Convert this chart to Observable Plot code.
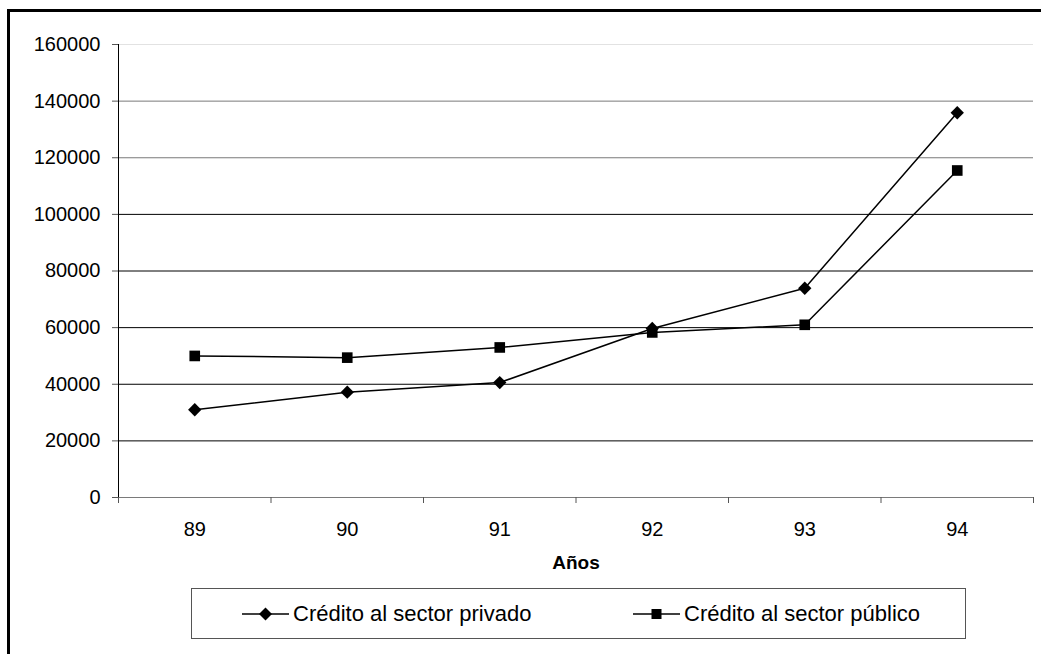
<!DOCTYPE html>
<html>
<head>
<meta charset="utf-8">
<script src="https://cdn.jsdelivr.net/npm/d3@7"></script>
<script src="https://cdn.jsdelivr.net/npm/@observablehq/plot@0.6"></script>
<style>
  body { margin: 0; background: #fff; overflow: hidden; }
  #page { position: relative; width: 1041px; height: 654px; overflow: hidden; font-family: "Liberation Sans", Arial, sans-serif; background: #fff; }
  #frame { position: absolute; left: 7px; top: 9px; width: 1100px; height: 700px; border-left: 3px solid #000; border-top: 3px solid #000; }
  #chart { position: absolute; left: 0; top: 0; }
  #legend { position: absolute; left: 191px; top: 588px; width: 773px; height: 49px; border: 1px solid #555; background: #fff; }
  .item { position: absolute; top: 0; height: 49px; display: flex; align-items: center; font-size: 22px; color: #000; white-space: nowrap; }
  .item svg { margin-right: 4px; }
</style>
</head>
<body>
<div id="page">
  <div id="frame"></div>
  <div id="chart"></div>
  <div id="legend"></div>
</div>
<script>
// Years on the horizontal axis (two-digit labels)
const years = [89, 90, 91, 92, 93, 94];
// Credit to the private and public sector, per year
const privado = [31000, 37200, 40600, 59700, 73900, 135900];
const publico = [50000, 49400, 53000, 58300, 61000, 115500];
const seriesNames = ["Crédito al sector privado", "Crédito al sector público"];
const yTicks = [0, 20000, 40000, 60000, 80000, 100000, 120000, 140000, 160000];
const xLabel = "Años";

// Long table for the line and dot marks
const rows = [];
years.forEach((yr, i) => {
  rows.push({year: yr, value: privado[i], serie: seriesNames[0]});
  rows.push({year: yr, value: publico[i], serie: seriesNames[1]});
});

// Category boundaries for the tick marks between years
const bounds = [years[0] - 0.5, ...years.map(y => y + 0.5)];

const gridColor = v => v === 160000 ? "#e2e2e2" : (v === 140000 || v === 120000 || v === 0) ? "#7a7a7a" : "#000";

const chart = Plot.plot({
  width: 1041,
  height: 580,
  marginLeft: 118,
  marginRight: 8,
  marginTop: 44,
  marginBottom: 83,
  style: {fontFamily: "Liberation Sans, Arial, sans-serif", fontSize: "20px", color: "#000", background: "transparent"},
  x: {type: "linear", domain: [bounds[0], bounds[bounds.length - 1]]},
  y: {domain: [0, 160000]},
  marks: [
    Plot.ruleY(yTicks, {x1: bounds[0], x2: bounds[bounds.length - 1], stroke: gridColor, strokeWidth: 1}),
    Plot.ruleX([bounds[0]], {y1: 0, y2: 160000, stroke: "#000", strokeWidth: 1}),
    Plot.axisY({ticks: yTicks, tickSize: 6, tickPadding: 12, tickFormat: d => String(d), label: null, stroke: "#555"}),
    Plot.axisX({ticks: bounds, tickSize: 6, tickFormat: () => "", label: null, stroke: "#555"}),
    Plot.axisX({ticks: years, tickSize: 0, tickPadding: 24, tickFormat: d => String(d), label: null}),
    Plot.text([xLabel], {frameAnchor: "bottom", dy: 58, fontWeight: "bold", fontSize: 19, lineAnchor: "top"}),
    Plot.line(rows, {x: "year", y: "value", z: "serie", stroke: "#000", strokeWidth: 1.5}),
    Plot.dot(rows, {
      x: "year", y: "value",
      symbol: d => d.serie === seriesNames[0] ? "diamond2" : "square",
      r: 6, fill: "#000", stroke: "none"
    })
  ]
});
document.getElementById("chart").appendChild(chart);

// Legend: line + marker swatches with series names
const legend = document.getElementById("legend");
const swatch = kind => {
  const marker = kind === 0
    ? '<path d="M23.5,3.5 L30,10 L23.5,16.5 L17,10 Z" fill="#000"/>'
    : '<rect x="18.5" y="5" width="10" height="10" fill="#000"/>';
  return `<svg width="47" height="20" viewBox="0 0 47 20"><line x1="0" y1="10" x2="47" y2="10" stroke="#000" stroke-width="1.5"/>${marker}</svg>`;
};
const offsets = [50, 441];
seriesNames.forEach((name, i) => {
  const el = document.createElement("div");
  el.className = "item";
  el.style.left = offsets[i] + "px";
  el.innerHTML = swatch(i) + "<span>" + name + "</span>";
  legend.appendChild(el);
});
</script>
</body>
</html>
